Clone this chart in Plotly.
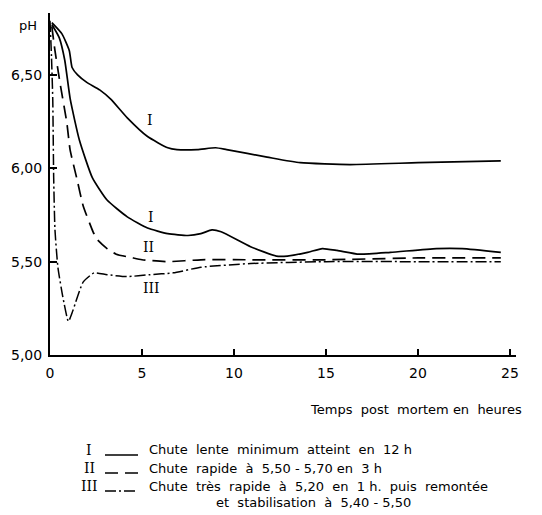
import plotly.graph_objects as go

# ---------------- data ----------------
# Curve I (upper, slow fall)
hours_I_upper = [0.1, 0.65, 1.05, 1.2, 1.5, 2.0, 2.7, 3.3, 4.2, 5.3, 6.4, 6.9, 8.0, 9.0, 9.6,
                 11.8, 13.6, 16.3, 20.0, 24.5]
ph_I_upper = [6.78, 6.72, 6.63, 6.54, 6.50, 6.46, 6.42, 6.37, 6.27, 6.17, 6.11, 6.10, 6.10, 6.11, 6.10,
              6.06, 6.03, 6.02, 6.03, 6.04]

# Curve I (lower)
hours_I_lower = [0.1, 0.5, 0.8, 1.1, 1.6, 2.3, 3.1, 4.2, 5.3, 6.4, 7.5, 8.2, 8.8, 9.3, 10.9,
                 12.3, 12.9, 14.0, 14.8, 15.6, 16.8, 18.5, 21.0, 22.4, 24.5]
ph_I_lower = [6.77, 6.70, 6.58, 6.37, 6.15, 5.95, 5.83, 5.74, 5.68, 5.65, 5.64, 5.65, 5.67, 5.66, 5.58,
              5.53, 5.53, 5.55, 5.57, 5.56, 5.54, 5.55, 5.57, 5.57, 5.55]

# Curve II (rapid fall)
hours_II = [0.1, 0.27, 0.54, 0.92, 1.09, 1.47, 1.8, 2.34, 2.55, 3.1, 3.6, 4.5, 5.0, 6.4, 8.2,
            10.9, 15.0, 20.0, 24.5]
ph_II = [6.76, 6.63, 6.46, 6.24, 6.10, 5.94, 5.80, 5.66, 5.62, 5.57, 5.54, 5.52, 5.51, 5.50, 5.51,
         5.51, 5.51, 5.52, 5.52]

# Curve III (very rapid fall, then rise)
hours_III = [0.0, 0.08, 0.15, 0.2, 0.27, 0.43, 0.7, 1.0, 1.25, 1.8, 2.4, 3.1, 4.2, 5.4, 6.7,
             8.2, 10.9, 15.0, 20.0, 24.5]
ph_III = [6.79, 6.60, 6.37, 5.95, 5.67, 5.47, 5.31, 5.18, 5.24, 5.39, 5.44, 5.43, 5.42, 5.43, 5.44,
          5.47, 5.49, 5.50, 5.50, 5.50]

x_ticks = [0, 5, 10, 15, 20, 25]
y_ticks = [5.0, 5.5, 6.0, 6.5]

curve_labels = ["I", "I", "II", "III"]
curve_label_x = [5.43, 5.49, 5.38, 5.54]
curve_label_y = [6.26, 5.74, 5.58, 5.36]

legend_numerals = ["I", "II", "III"]
legend_texts = ["Chute  lente  minimum  atteint  en  12 h",
                "Chute  rapide  à  5,50 - 5,70 en  3 h",
                "Chute  très  rapide  à  5,20  en  1 h.  puis  remontée"]
legend_cont = "et  stabilisation  à  5,40 - 5,50"
legend_dashes = ["solid", "13px,7px", "11px,3px,2px,3px"]

x_title = "Temps  post  mortem en  heures"
y_title = "pH"

# ---------------- figure ----------------
W, H = 542, 515
ML, MR, MT, MB = 50, 26, 13, 160
PW, PH = W - ML - MR, H - MT - MB
px_per_h = 18.4
px_per_ph = 186.7

SANS = "DejaVu Sans"
SERIF = "DejaVu Serif"

def px(x):
    return (x - ML) / PW

def py(y):
    return (H - MB - y) / PH

fig = go.Figure()
line_common = dict(color="black", shape="spline", smoothing=0.5)
fig.add_trace(go.Scatter(x=hours_I_upper, y=ph_I_upper, mode="lines",
                         line=dict(width=1.7, dash="solid", **line_common), showlegend=False))
fig.add_trace(go.Scatter(x=hours_I_lower, y=ph_I_lower, mode="lines",
                         line=dict(width=1.7, dash="solid", **line_common), showlegend=False))
fig.add_trace(go.Scatter(x=hours_II, y=ph_II, mode="lines",
                         line=dict(width=1.7, dash=legend_dashes[1], **line_common), showlegend=False))
fig.add_trace(go.Scatter(x=hours_III, y=ph_III, mode="lines",
                         line=dict(width=1.5, dash=legend_dashes[2], **line_common), showlegend=False))

annotations = []
for t, xx, yy in zip(curve_labels, curve_label_x, curve_label_y):
    annotations.append(dict(x=xx, y=yy, xref="x", yref="y", text=t, showarrow=False,
                            xanchor="center", yanchor="middle",
                            font=dict(family=SERIF, size=14, color="black")))

# pH label
annotations.append(dict(x=px(28), y=py(25), xref="paper", yref="paper", text=y_title,
                        xanchor="center", yanchor="middle",
                        showarrow=False, font=dict(family=SANS, size=13, color="black")))
# x title
annotations.append(dict(x=px(308), y=py(409), xref="paper", yref="paper", text=x_title,
                        xanchor="left", yanchor="middle",
                        showarrow=False, font=dict(family=SANS, size=13, color="black")))

shapes = []
row_y = [450, 468, 486]
for i, (num, txt, dsh) in enumerate(zip(legend_numerals, legend_texts, legend_dashes)):
    annotations.append(dict(x=px(89), y=py(row_y[i]), xref="paper", yref="paper", text=num,
                            xanchor="center", yanchor="middle",
                            showarrow=False, font=dict(family=SERIF, size=14, color="black")))
    annotations.append(dict(x=px(147), y=py(row_y[i]), xref="paper", yref="paper", text=txt,
                            xanchor="left", yanchor="middle",
                            showarrow=False, font=dict(family=SANS, size=13, color="black")))
    shapes.append(dict(type="line", xref="paper", yref="paper",
                       x0=px(105), x1=px(138), y0=py(row_y[i] + 5), y1=py(row_y[i] + 5),
                       line=dict(color="black", width=1.6, dash=dsh)))
annotations.append(dict(x=px(214), y=py(503), xref="paper", yref="paper", text=legend_cont,
                        xanchor="left", yanchor="middle",
                        showarrow=False, font=dict(family=SANS, size=13, color="black")))

fig.update_layout(
    width=W, height=H,
    margin=dict(l=ML, r=MR, t=MT, b=MB, autoexpand=False),
    paper_bgcolor="white", plot_bgcolor="white",
    separators=",.",
    showlegend=False,
    annotations=annotations,
    shapes=shapes,
    font=dict(family=SANS, size=14, color="black"),
)
fig.update_xaxes(range=[0, PW / px_per_h], tickvals=x_ticks, ticktext=[str(v) for v in x_ticks],
                 showline=True, linecolor="black", linewidth=2, ticks="inside", ticklen=6,
                 tickwidth=1.5, tickcolor="black", showgrid=False, zeroline=False, automargin=False,
                 tickfont=dict(family=SANS, size=14), ticklabelstandoff=4)
fig.update_yaxes(range=[5.0, 5.0 + PH / px_per_ph], tickvals=y_ticks, tickformat=".2f",
                 showline=True, linecolor="black", linewidth=2, ticks="inside", ticklen=7,
                 tickwidth=1.5, tickcolor="black", showgrid=False, zeroline=False, automargin=False,
                 tickfont=dict(family=SANS, size=14), ticklabelstandoff=3)

fig.write_html("out.html",
               config={"displayModeBar": False},
               post_script="document.body.style.margin='0';document.body.style.overflow='hidden';")
